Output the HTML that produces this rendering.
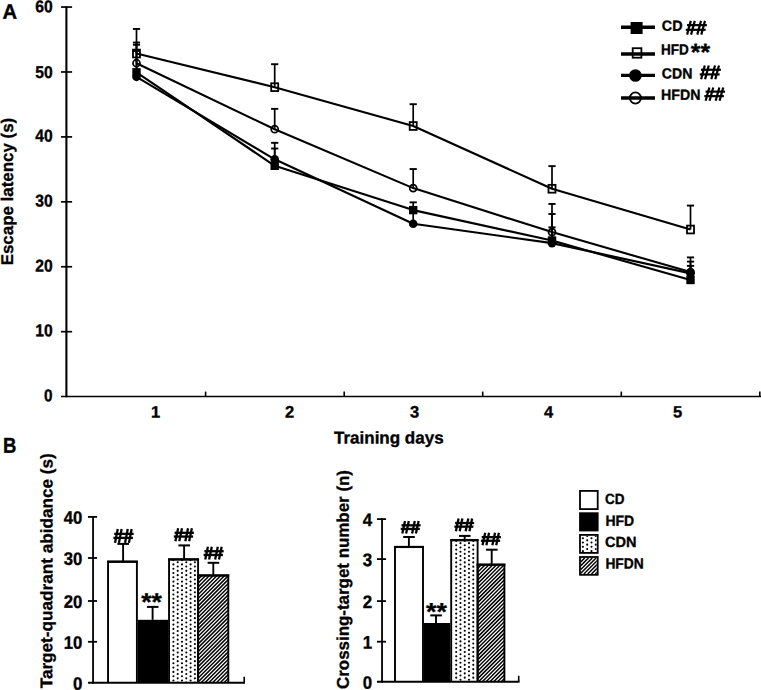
<!DOCTYPE html>
<html><head><meta charset="utf-8"><title>Figure</title>
<style>
html,body{margin:0;padding:0;background:#fff;}
svg{display:block;}
svg text{font-family:"Liberation Sans",sans-serif;font-weight:bold;fill:#000;}
</style></head><body>
<svg width="761" height="690" viewBox="0 0 761 690">
<rect x="0" y="0" width="761" height="690" fill="#fff" stroke="none"/>
<line x1="66.4" y1="6.2" x2="66.4" y2="397.3" stroke="#000" stroke-width="2.1" />
<line x1="61.0" y1="396.6" x2="761" y2="396.6" stroke="#000" stroke-width="1.5" />
<text x="52.6" y="401.3" transform="rotate(0.05 52.6 401.3)" font-size="17.1" text-anchor="end" textLength="8.5" lengthAdjust="spacingAndGlyphs" stroke="#000" stroke-width="0.35" >0</text>
<line x1="61.0" y1="331.68" x2="72.1" y2="331.68" stroke="#000" stroke-width="1.7" />
<text x="52.6" y="336.38" transform="rotate(0.05 52.6 336.38)" font-size="17.1" text-anchor="end" textLength="17.4" lengthAdjust="spacingAndGlyphs" stroke="#000" stroke-width="0.35" >10</text>
<line x1="61.0" y1="266.75" x2="72.1" y2="266.75" stroke="#000" stroke-width="1.7" />
<text x="52.6" y="271.45" transform="rotate(0.05 52.6 271.45)" font-size="17.1" text-anchor="end" textLength="17.4" lengthAdjust="spacingAndGlyphs" stroke="#000" stroke-width="0.35" >20</text>
<line x1="61.0" y1="201.83" x2="72.1" y2="201.83" stroke="#000" stroke-width="1.7" />
<text x="52.6" y="206.53" transform="rotate(0.05 52.6 206.53)" font-size="17.1" text-anchor="end" textLength="17.4" lengthAdjust="spacingAndGlyphs" stroke="#000" stroke-width="0.35" >30</text>
<line x1="61.0" y1="136.9" x2="72.1" y2="136.9" stroke="#000" stroke-width="1.7" />
<text x="52.6" y="141.6" transform="rotate(0.05 52.6 141.6)" font-size="17.1" text-anchor="end" textLength="17.4" lengthAdjust="spacingAndGlyphs" stroke="#000" stroke-width="0.35" >40</text>
<line x1="61.0" y1="71.98" x2="72.1" y2="71.98" stroke="#000" stroke-width="1.7" />
<text x="52.6" y="78.08" transform="rotate(0.05 52.6 78.08)" font-size="17.1" text-anchor="end" textLength="17.4" lengthAdjust="spacingAndGlyphs" stroke="#000" stroke-width="0.35" >50</text>
<line x1="61.0" y1="7.05" x2="72.1" y2="7.05" stroke="#000" stroke-width="1.7" />
<text x="52.6" y="12.25" transform="rotate(0.05 52.6 12.25)" font-size="17.1" text-anchor="end" textLength="17.4" lengthAdjust="spacingAndGlyphs" stroke="#000" stroke-width="0.35" >60</text>
<line x1="205.6" y1="396.6" x2="205.6" y2="391.6" stroke="#000" stroke-width="1.6" />
<line x1="344.2" y1="396.6" x2="344.2" y2="391.6" stroke="#000" stroke-width="1.6" />
<line x1="482.7" y1="396.6" x2="482.7" y2="391.6" stroke="#000" stroke-width="1.6" />
<line x1="621.3" y1="396.6" x2="621.3" y2="391.6" stroke="#000" stroke-width="1.6" />
<line x1="759.8" y1="396.6" x2="759.8" y2="391.6" stroke="#000" stroke-width="1.6" />
<text x="155.5" y="417.4" transform="rotate(0.05 155.5 417.4)" font-size="16.5" text-anchor="middle" stroke="#000" stroke-width="0.35" >1</text>
<text x="289.5" y="417.4" transform="rotate(0.05 289.5 417.4)" font-size="16.5" text-anchor="middle" stroke="#000" stroke-width="0.35" >2</text>
<text x="414.6" y="417.4" transform="rotate(0.05 414.6 417.4)" font-size="16.5" text-anchor="middle" stroke="#000" stroke-width="0.35" >3</text>
<text x="548.5" y="417.4" transform="rotate(0.05 548.5 417.4)" font-size="16.5" text-anchor="middle" stroke="#000" stroke-width="0.35" >4</text>
<text x="677.5" y="417.4" transform="rotate(0.05 677.5 417.4)" font-size="16.5" text-anchor="middle" stroke="#000" stroke-width="0.35" >5</text>
<text x="334.0" y="443.4" transform="rotate(0.05 334.0 443.4)" font-size="17" text-anchor="start" textLength="109.6" lengthAdjust="spacingAndGlyphs" stroke="#000" stroke-width="0.35" >Training days</text>
<text x="2.6" y="18.8" transform="rotate(0.05 2.6 18.8)" font-size="21" text-anchor="start" textLength="14.6" lengthAdjust="spacingAndGlyphs" stroke="#000" stroke-width="0.35" >A</text>
<text x="2.9" y="452.7" transform="rotate(0.05 2.9 452.7)" font-size="21.5" text-anchor="start" textLength="13.4" lengthAdjust="spacingAndGlyphs" stroke="#000" stroke-width="0.35" >B</text>
<text transform="translate(12.9,265.3) rotate(-89.95)" font-size="17" textLength="147.5" lengthAdjust="spacingAndGlyphs" stroke="#000" stroke-width="0.3">Escape latency (s)</text>
<polyline points="136.5,72.3 274.7,165.79 413.2,210.11 552.0,240.52 690.5,279.99" fill="none" stroke="#000" stroke-width="2.1" stroke-linejoin="round"/>
<polyline points="136.5,53.54 274.7,87.18 413.2,126.0 552.0,188.76 690.5,229.52" fill="none" stroke="#000" stroke-width="2.1" stroke-linejoin="round"/>
<polyline points="136.5,76.83 274.7,159.32 413.2,223.7 552.0,243.11 690.5,273.39" fill="none" stroke="#000" stroke-width="2.1" stroke-linejoin="round"/>
<polyline points="136.5,63.24 274.7,129.24 413.2,188.11 552.0,232.11 690.5,272.09" fill="none" stroke="#000" stroke-width="2.1" stroke-linejoin="round"/>
<line x1="136.5" y1="72.3" x2="136.5" y2="42.54" stroke="#000" stroke-width="1.7" />
<line x1="132.9" y1="42.54" x2="140.1" y2="42.54" stroke="#000" stroke-width="1.9" />
<line x1="274.7" y1="165.79" x2="274.7" y2="142.82" stroke="#000" stroke-width="1.7" />
<line x1="271.09999999999997" y1="142.82" x2="278.3" y2="142.82" stroke="#000" stroke-width="1.9" />
<line x1="413.2" y1="210.11" x2="413.2" y2="202.35" stroke="#000" stroke-width="1.7" />
<line x1="409.59999999999997" y1="202.35" x2="416.8" y2="202.35" stroke="#000" stroke-width="1.9" />
<line x1="552.0" y1="240.52" x2="552.0" y2="227.32" stroke="#000" stroke-width="1.7" />
<line x1="548.4" y1="227.32" x2="555.6" y2="227.32" stroke="#000" stroke-width="1.9" />
<line x1="690.5" y1="279.99" x2="690.5" y2="265.88" stroke="#000" stroke-width="1.7" />
<line x1="686.9" y1="265.88" x2="694.1" y2="265.88" stroke="#000" stroke-width="1.9" />
<line x1="136.5" y1="53.54" x2="136.5" y2="28.95" stroke="#000" stroke-width="1.7" />
<line x1="132.9" y1="28.95" x2="140.1" y2="28.95" stroke="#000" stroke-width="1.9" />
<line x1="274.7" y1="87.18" x2="274.7" y2="64.21" stroke="#000" stroke-width="1.7" />
<line x1="271.09999999999997" y1="64.21" x2="278.3" y2="64.21" stroke="#000" stroke-width="1.9" />
<line x1="413.2" y1="126.0" x2="413.2" y2="104.2" stroke="#000" stroke-width="1.7" />
<line x1="409.59999999999997" y1="104.2" x2="416.8" y2="104.2" stroke="#000" stroke-width="1.9" />
<line x1="552.0" y1="188.76" x2="552.0" y2="166.12" stroke="#000" stroke-width="1.7" />
<line x1="548.4" y1="166.12" x2="555.6" y2="166.12" stroke="#000" stroke-width="1.9" />
<line x1="690.5" y1="229.52" x2="690.5" y2="205.58" stroke="#000" stroke-width="1.7" />
<line x1="686.9" y1="205.58" x2="694.1" y2="205.58" stroke="#000" stroke-width="1.9" />
<line x1="136.5" y1="76.83" x2="136.5" y2="44.8" stroke="#000" stroke-width="1.7" />
<line x1="132.9" y1="44.8" x2="140.1" y2="44.8" stroke="#000" stroke-width="1.9" />
<line x1="274.7" y1="159.32" x2="274.7" y2="148.52" stroke="#000" stroke-width="1.7" />
<line x1="271.09999999999997" y1="148.52" x2="278.3" y2="148.52" stroke="#000" stroke-width="1.9" />
<line x1="413.2" y1="223.7" x2="413.2" y2="212.05" stroke="#000" stroke-width="1.7" />
<line x1="409.59999999999997" y1="212.05" x2="416.8" y2="212.05" stroke="#000" stroke-width="1.9" />
<line x1="552.0" y1="243.11" x2="552.0" y2="213.99" stroke="#000" stroke-width="1.7" />
<line x1="548.4" y1="213.99" x2="555.6" y2="213.99" stroke="#000" stroke-width="1.9" />
<line x1="690.5" y1="273.39" x2="690.5" y2="261.61" stroke="#000" stroke-width="1.7" />
<line x1="686.9" y1="261.61" x2="694.1" y2="261.61" stroke="#000" stroke-width="1.9" />
<line x1="136.5" y1="63.24" x2="136.5" y2="50.95" stroke="#000" stroke-width="1.7" />
<line x1="132.9" y1="50.95" x2="140.1" y2="50.95" stroke="#000" stroke-width="1.9" />
<line x1="274.7" y1="129.24" x2="274.7" y2="108.86" stroke="#000" stroke-width="1.7" />
<line x1="271.09999999999997" y1="108.86" x2="278.3" y2="108.86" stroke="#000" stroke-width="1.9" />
<line x1="413.2" y1="188.11" x2="413.2" y2="169.03" stroke="#000" stroke-width="1.7" />
<line x1="409.59999999999997" y1="169.03" x2="416.8" y2="169.03" stroke="#000" stroke-width="1.9" />
<line x1="552.0" y1="232.11" x2="552.0" y2="203.96" stroke="#000" stroke-width="1.7" />
<line x1="548.4" y1="203.96" x2="555.6" y2="203.96" stroke="#000" stroke-width="1.9" />
<line x1="690.5" y1="272.09" x2="690.5" y2="257.41" stroke="#000" stroke-width="1.7" />
<line x1="686.9" y1="257.41" x2="694.1" y2="257.41" stroke="#000" stroke-width="1.9" />
<rect x="133.0" y="49.64" width="7" height="7.8" fill="none" stroke="#000" stroke-width="1.8"/>
<rect x="271.2" y="83.28" width="7" height="7.8" fill="none" stroke="#000" stroke-width="1.8"/>
<rect x="409.7" y="122.1" width="7" height="7.8" fill="none" stroke="#000" stroke-width="1.8"/>
<rect x="548.5" y="184.86" width="7" height="7.8" fill="none" stroke="#000" stroke-width="1.8"/>
<rect x="687.0" y="225.62" width="7" height="7.8" fill="none" stroke="#000" stroke-width="1.8"/>
<circle cx="136.5" cy="63.24" r="3.5" fill="none" stroke="#000" stroke-width="1.75"/>
<circle cx="274.7" cy="129.24" r="3.5" fill="none" stroke="#000" stroke-width="1.75"/>
<circle cx="413.2" cy="188.11" r="3.5" fill="none" stroke="#000" stroke-width="1.75"/>
<circle cx="552.0" cy="232.11" r="3.5" fill="none" stroke="#000" stroke-width="1.75"/>
<circle cx="690.5" cy="272.09" r="3.5" fill="none" stroke="#000" stroke-width="1.75"/>
<rect x="132.3" y="68.1" width="8.4" height="8.4" fill="#000" stroke="none"/>
<rect x="270.5" y="161.59" width="8.4" height="8.4" fill="#000" stroke="none"/>
<rect x="409.0" y="205.91000000000003" width="8.4" height="8.4" fill="#000" stroke="none"/>
<rect x="547.8" y="236.32000000000002" width="8.4" height="8.4" fill="#000" stroke="none"/>
<rect x="686.3" y="275.79" width="8.4" height="8.4" fill="#000" stroke="none"/>
<circle cx="136.5" cy="76.83" r="4.3" fill="#000" stroke="none"/>
<circle cx="274.7" cy="159.32" r="4.3" fill="#000" stroke="none"/>
<circle cx="413.2" cy="223.7" r="4.3" fill="#000" stroke="none"/>
<circle cx="552.0" cy="243.11" r="4.3" fill="#000" stroke="none"/>
<circle cx="690.5" cy="273.39" r="4.3" fill="#000" stroke="none"/>
<line x1="621" y1="27.2" x2="655" y2="27.2" stroke="#000" stroke-width="3.4" />
<line x1="621" y1="54.0" x2="655" y2="54.0" stroke="#000" stroke-width="3.4" />
<line x1="621" y1="75.4" x2="655" y2="75.4" stroke="#000" stroke-width="3.4" />
<line x1="621" y1="98.0" x2="655" y2="98.0" stroke="#000" stroke-width="3.4" />
<rect x="630.6" y="22.0" width="12" height="12" fill="#000" stroke="none"/>
<rect x="632.7" y="48.2" width="8.7" height="9.5" fill="none" stroke="#000" stroke-width="1.8"/>
<circle cx="635.4" cy="75.5" r="6.3" fill="#000" stroke="none"/>
<circle cx="635.4" cy="98.0" r="5.6" fill="none" stroke="#000" stroke-width="1.8"/>
<text x="661.8" y="30.8" transform="rotate(0.05 661.8 30.8)" font-size="14.8" text-anchor="start" textLength="20.7" lengthAdjust="spacingAndGlyphs" stroke="#000" stroke-width="0.35" >CD</text>
<text x="661.0" y="54.6" transform="rotate(0.05 661.0 54.6)" font-size="14.8" text-anchor="start" textLength="27.8" lengthAdjust="spacingAndGlyphs" stroke="#000" stroke-width="0.35" >HFD</text>
<text x="661.8" y="78.4" transform="rotate(0.05 661.8 78.4)" font-size="14.8" text-anchor="start" textLength="30.6" lengthAdjust="spacingAndGlyphs" stroke="#000" stroke-width="0.35" >CDN</text>
<text x="661.0" y="99.8" transform="rotate(0.05 661.0 99.8)" font-size="14.8" text-anchor="start" textLength="39.4" lengthAdjust="spacingAndGlyphs" stroke="#000" stroke-width="0.35" >HFDN</text>
<line x1="690.8" y1="20.9" x2="687.1" y2="34.6" stroke="#000" stroke-width="2.2" />
<line x1="694.78" y1="20.9" x2="691.08" y2="34.6" stroke="#000" stroke-width="2.2" />
<line x1="701.0" y1="20.9" x2="697.3" y2="34.6" stroke="#000" stroke-width="2.2" />
<line x1="704.98" y1="20.9" x2="701.28" y2="34.6" stroke="#000" stroke-width="2.2" />
<line x1="687.0" y1="25.15" x2="706.9" y2="25.15" stroke="#000" stroke-width="2.2" />
<line x1="685.75" y1="29.8" x2="705.65" y2="29.8" stroke="#000" stroke-width="2.2" />
<line x1="704.8" y1="65.5" x2="701.1" y2="79.2" stroke="#000" stroke-width="2.2" />
<line x1="708.78" y1="65.5" x2="705.08" y2="79.2" stroke="#000" stroke-width="2.2" />
<line x1="715.0" y1="65.5" x2="711.3" y2="79.2" stroke="#000" stroke-width="2.2" />
<line x1="718.98" y1="65.5" x2="715.28" y2="79.2" stroke="#000" stroke-width="2.2" />
<line x1="701.0" y1="69.75" x2="720.9" y2="69.75" stroke="#000" stroke-width="2.2" />
<line x1="699.75" y1="74.41" x2="719.65" y2="74.41" stroke="#000" stroke-width="2.2" />
<line x1="709.35" y1="87.5" x2="705.65" y2="100.8" stroke="#000" stroke-width="2.2" />
<line x1="713.25" y1="87.5" x2="709.55" y2="100.8" stroke="#000" stroke-width="2.2" />
<line x1="719.35" y1="87.5" x2="715.65" y2="100.8" stroke="#000" stroke-width="2.2" />
<line x1="723.25" y1="87.5" x2="719.55" y2="100.8" stroke="#000" stroke-width="2.2" />
<line x1="705.6" y1="91.62" x2="725.1" y2="91.62" stroke="#000" stroke-width="2.2" />
<line x1="704.35" y1="96.14" x2="723.85" y2="96.14" stroke="#000" stroke-width="2.2" />
<text x="690.8" y="60.4" transform="rotate(0.05 690.8 60.4)" font-size="24.5" text-anchor="start" textLength="19.2" lengthAdjust="spacingAndGlyphs" stroke="#000" stroke-width="0.35" >**</text>
<path d="M108.05 682.75V561.8H136.9V682.75" fill="none" stroke="#000" stroke-width="1.9" stroke-linejoin="miter"/>
<line x1="107.1" y1="561.65" x2="137.85" y2="561.65" stroke="#000" stroke-width="2.1999999999999997"/>
<line x1="123.1" y1="561.8" x2="123.1" y2="543.9" stroke="#000" stroke-width="1.9" />
<line x1="117.39999999999999" y1="543.9" x2="129.0" y2="543.9" stroke="#000" stroke-width="2.0" />
<rect x="137.8" y="619.8" width="30.4" height="62.95" fill="#000" stroke="none"/>
<line x1="152.6" y1="619.8" x2="152.6" y2="606.9" stroke="#000" stroke-width="1.9" />
<line x1="146.9" y1="606.9" x2="158.5" y2="606.9" stroke="#000" stroke-width="2.0" />
<clipPath id="c1"><rect x="169.05" y="559.5" width="29.05" height="123.25"/></clipPath>
<g clip-path="url(#c1)" stroke-linecap="round">
<line x1="173.4" y1="555.8" x2="173.4" y2="684.75" stroke="#000" stroke-width="2.1" stroke-dasharray="0.01 4.29"/>
<line x1="177.7" y1="557.95" x2="177.7" y2="684.75" stroke="#000" stroke-width="2.1" stroke-dasharray="0.01 4.29"/>
<line x1="182.0" y1="555.8" x2="182.0" y2="684.75" stroke="#000" stroke-width="2.1" stroke-dasharray="0.01 4.29"/>
<line x1="186.3" y1="557.95" x2="186.3" y2="684.75" stroke="#000" stroke-width="2.1" stroke-dasharray="0.01 4.29"/>
<line x1="190.6" y1="555.8" x2="190.6" y2="684.75" stroke="#000" stroke-width="2.1" stroke-dasharray="0.01 4.29"/>
<line x1="194.9" y1="557.95" x2="194.9" y2="684.75" stroke="#000" stroke-width="2.1" stroke-dasharray="0.01 4.29"/>
</g>
<path d="M169.05 682.75V559.5H198.1V682.75" fill="none" stroke="#000" stroke-width="1.9" stroke-linejoin="miter"/>
<line x1="168.1" y1="559.35" x2="199.05" y2="559.35" stroke="#000" stroke-width="2.1999999999999997"/>
<line x1="184.1" y1="559.5" x2="184.1" y2="545.4" stroke="#000" stroke-width="1.9" />
<line x1="178.4" y1="545.4" x2="190.0" y2="545.4" stroke="#000" stroke-width="2.0" />
<clipPath id="c2"><rect x="198.1" y="575.6" width="30.2" height="107.15"/></clipPath>
<g clip-path="url(#c2)">
<path d="M90.95 682.75L198.1 575.6M94.75 682.75L201.9 575.6M98.55 682.75L205.7 575.6M102.35 682.75L209.5 575.6M106.15 682.75L213.3 575.6M109.95 682.75L217.1 575.6M113.75 682.75L220.9 575.6M117.55 682.75L224.7 575.6M121.35 682.75L228.5 575.6M125.15 682.75L232.3 575.6M128.95 682.75L236.1 575.6M132.75 682.75L239.9 575.6M136.55 682.75L243.7 575.6M140.35 682.75L247.5 575.6M144.15 682.75L251.3 575.6M147.95 682.75L255.1 575.6M151.75 682.75L258.9 575.6M155.55 682.75L262.7 575.6M159.35 682.75L266.5 575.6M163.15 682.75L270.3 575.6M166.95 682.75L274.1 575.6M170.75 682.75L277.9 575.6M174.55 682.75L281.7 575.6M178.35 682.75L285.5 575.6M182.15 682.75L289.3 575.6M185.95 682.75L293.1 575.6M189.75 682.75L296.9 575.6M193.55 682.75L300.7 575.6M197.35 682.75L304.5 575.6M201.15 682.75L308.3 575.6M204.95 682.75L312.1 575.6M208.75 682.75L315.9 575.6M212.55 682.75L319.7 575.6M216.35 682.75L323.5 575.6M220.15 682.75L327.3 575.6M223.95 682.75L331.1 575.6M227.75 682.75L334.9 575.6" stroke="#000" stroke-width="1.45" fill="none"/>
</g>
<path d="M198.1 682.75V575.6H228.3V682.75" fill="none" stroke="#000" stroke-width="1.9" stroke-linejoin="miter"/>
<line x1="197.15" y1="575.45" x2="229.25" y2="575.45" stroke="#000" stroke-width="2.1999999999999997"/>
<line x1="213.3" y1="575.6" x2="213.3" y2="562.8" stroke="#000" stroke-width="1.9" />
<line x1="207.60000000000002" y1="562.8" x2="219.20000000000002" y2="562.8" stroke="#000" stroke-width="2.0" />
<path d="M395.0 681.75V547.1H423.0V681.75" fill="none" stroke="#000" stroke-width="1.9" stroke-linejoin="miter"/>
<line x1="394.05" y1="546.95" x2="423.95" y2="546.95" stroke="#000" stroke-width="2.1999999999999997"/>
<line x1="408.9" y1="547.1" x2="408.9" y2="537.0" stroke="#000" stroke-width="1.9" />
<line x1="403.2" y1="537.0" x2="414.79999999999995" y2="537.0" stroke="#000" stroke-width="2.0" />
<rect x="423.9" y="623.0" width="26.4" height="58.75" fill="#000" stroke="none"/>
<line x1="436.0" y1="623.0" x2="436.0" y2="615.4" stroke="#000" stroke-width="1.9" />
<line x1="430.3" y1="615.4" x2="441.9" y2="615.4" stroke="#000" stroke-width="2.0" />
<clipPath id="c3"><rect x="451.2" y="540.2" width="26.4" height="141.55"/></clipPath>
<g clip-path="url(#c3)" stroke-linecap="round">
<line x1="456.2" y1="536.76" x2="456.2" y2="683.75" stroke="#000" stroke-width="2.1" stroke-dasharray="0.01 4.26"/>
<line x1="460.47" y1="538.89" x2="460.47" y2="683.75" stroke="#000" stroke-width="2.1" stroke-dasharray="0.01 4.26"/>
<line x1="464.74" y1="536.76" x2="464.74" y2="683.75" stroke="#000" stroke-width="2.1" stroke-dasharray="0.01 4.26"/>
<line x1="469.01" y1="538.89" x2="469.01" y2="683.75" stroke="#000" stroke-width="2.1" stroke-dasharray="0.01 4.26"/>
<line x1="473.28" y1="536.76" x2="473.28" y2="683.75" stroke="#000" stroke-width="2.1" stroke-dasharray="0.01 4.26"/>
</g>
<path d="M451.2 681.75V540.2H477.6V681.75" fill="none" stroke="#000" stroke-width="1.9" stroke-linejoin="miter"/>
<line x1="450.25" y1="540.0500000000001" x2="478.55" y2="540.0500000000001" stroke="#000" stroke-width="2.1999999999999997"/>
<line x1="464.65" y1="540.2" x2="464.65" y2="535.9" stroke="#000" stroke-width="1.9" />
<line x1="458.95" y1="535.9" x2="470.54999999999995" y2="535.9" stroke="#000" stroke-width="2.0" />
<clipPath id="c4"><rect x="477.6" y="564.8" width="26.8" height="116.95"/></clipPath>
<g clip-path="url(#c4)">
<path d="M360.65 681.75L477.6 564.8M364.45 681.75L481.4 564.8M368.25 681.75L485.2 564.8M372.05 681.75L489.0 564.8M375.85 681.75L492.8 564.8M379.65 681.75L496.6 564.8M383.45 681.75L500.4 564.8M387.25 681.75L504.2 564.8M391.05 681.75L508.0 564.8M394.85 681.75L511.8 564.8M398.65 681.75L515.6 564.8M402.45 681.75L519.4 564.8M406.25 681.75L523.2 564.8M410.05 681.75L527.0 564.8M413.85 681.75L530.8 564.8M417.65 681.75L534.6 564.8M421.45 681.75L538.4 564.8M425.25 681.75L542.2 564.8M429.05 681.75L546.0 564.8M432.85 681.75L549.8 564.8M436.65 681.75L553.6 564.8M440.45 681.75L557.4 564.8M444.25 681.75L561.2 564.8M448.05 681.75L565.0 564.8M451.85 681.75L568.8 564.8M455.65 681.75L572.6 564.8M459.45 681.75L576.4 564.8M463.25 681.75L580.2 564.8M467.05 681.75L584.0 564.8M470.85 681.75L587.8 564.8M474.65 681.75L591.6 564.8M478.45 681.75L595.4 564.8M482.25 681.75L599.2 564.8M486.05 681.75L603.0 564.8M489.85 681.75L606.8 564.8M493.65 681.75L610.6 564.8M497.45 681.75L614.4 564.8M501.25 681.75L618.2 564.8" stroke="#000" stroke-width="1.45" fill="none"/>
</g>
<path d="M477.6 681.75V564.8H504.4V681.75" fill="none" stroke="#000" stroke-width="1.9" stroke-linejoin="miter"/>
<line x1="476.65" y1="564.65" x2="505.35" y2="564.65" stroke="#000" stroke-width="2.1999999999999997"/>
<line x1="491.7" y1="564.8" x2="491.7" y2="549.7" stroke="#000" stroke-width="1.9" />
<line x1="486.0" y1="549.7" x2="497.59999999999997" y2="549.7" stroke="#000" stroke-width="2.0" />
<line x1="93.05" y1="683.65" x2="93.05" y2="516.0" stroke="#000" stroke-width="1.8" />
<line x1="87.95" y1="682.75" x2="245.0" y2="682.75" stroke="#000" stroke-width="1.8" />
<line x1="244.2" y1="682.75" x2="244.2" y2="676.75" stroke="#000" stroke-width="1.6" />
<text x="82.3" y="689.65" transform="rotate(0.05 82.3 689.65)" font-size="18" text-anchor="end" textLength="9.4" lengthAdjust="spacingAndGlyphs" stroke="#000" stroke-width="0.35" >0</text>
<line x1="87.95" y1="641.8" x2="97.05" y2="641.8" stroke="#000" stroke-width="1.8" />
<text x="82.3" y="648.7" transform="rotate(0.05 82.3 648.7)" font-size="18" text-anchor="end" textLength="18.6" lengthAdjust="spacingAndGlyphs" stroke="#000" stroke-width="0.35" >10</text>
<line x1="87.95" y1="601.0" x2="97.05" y2="601.0" stroke="#000" stroke-width="1.8" />
<text x="82.3" y="607.9" transform="rotate(0.05 82.3 607.9)" font-size="18" text-anchor="end" textLength="18.6" lengthAdjust="spacingAndGlyphs" stroke="#000" stroke-width="0.35" >20</text>
<line x1="87.95" y1="558.0" x2="97.05" y2="558.0" stroke="#000" stroke-width="1.8" />
<text x="82.3" y="564.9" transform="rotate(0.05 82.3 564.9)" font-size="18" text-anchor="end" textLength="18.6" lengthAdjust="spacingAndGlyphs" stroke="#000" stroke-width="0.35" >30</text>
<line x1="87.95" y1="516.9" x2="97.05" y2="516.9" stroke="#000" stroke-width="1.8" />
<text x="82.3" y="523.8" transform="rotate(0.05 82.3 523.8)" font-size="18" text-anchor="end" textLength="18.6" lengthAdjust="spacingAndGlyphs" stroke="#000" stroke-width="0.35" >40</text>
<line x1="382.05" y1="682.65" x2="382.05" y2="518.2" stroke="#000" stroke-width="1.8" />
<line x1="376.95" y1="681.75" x2="519.5" y2="681.75" stroke="#000" stroke-width="1.8" />
<line x1="518.7" y1="681.75" x2="518.7" y2="675.75" stroke="#000" stroke-width="1.6" />
<text x="372.1" y="688.65" transform="rotate(0.05 372.1 688.65)" font-size="18" text-anchor="end" textLength="9.4" lengthAdjust="spacingAndGlyphs" stroke="#000" stroke-width="0.35" >0</text>
<line x1="376.95" y1="641.7" x2="386.05" y2="641.7" stroke="#000" stroke-width="1.8" />
<text x="372.1" y="648.6" transform="rotate(0.05 372.1 648.6)" font-size="18" text-anchor="end" textLength="9.4" lengthAdjust="spacingAndGlyphs" stroke="#000" stroke-width="0.35" >1</text>
<line x1="376.95" y1="601.1" x2="386.05" y2="601.1" stroke="#000" stroke-width="1.8" />
<text x="372.1" y="608.0" transform="rotate(0.05 372.1 608.0)" font-size="18" text-anchor="end" textLength="9.4" lengthAdjust="spacingAndGlyphs" stroke="#000" stroke-width="0.35" >2</text>
<line x1="376.95" y1="559.1" x2="386.05" y2="559.1" stroke="#000" stroke-width="1.8" />
<text x="372.1" y="566.0" transform="rotate(0.05 372.1 566.0)" font-size="18" text-anchor="end" textLength="9.4" lengthAdjust="spacingAndGlyphs" stroke="#000" stroke-width="0.35" >3</text>
<line x1="376.95" y1="519.1" x2="386.05" y2="519.1" stroke="#000" stroke-width="1.8" />
<text x="372.1" y="526.0" transform="rotate(0.05 372.1 526.0)" font-size="18" text-anchor="end" textLength="9.4" lengthAdjust="spacingAndGlyphs" stroke="#000" stroke-width="0.35" >4</text>
<text transform="translate(52.3,688.3) rotate(-89.95)" font-size="17" textLength="235" lengthAdjust="spacingAndGlyphs" stroke="#000" stroke-width="0.3">Target-quadrant abidance (s)</text>
<text transform="translate(348.7,689) rotate(-89.95)" font-size="17" textLength="219" lengthAdjust="spacingAndGlyphs" stroke="#000" stroke-width="0.3">Crossing-target number (n)</text>
<line x1="117.75" y1="529.0" x2="115.05" y2="542.9" stroke="#000" stroke-width="2.3" />
<line x1="121.65" y1="529.0" x2="118.95" y2="542.9" stroke="#000" stroke-width="2.3" />
<line x1="127.75" y1="529.0" x2="125.05" y2="542.9" stroke="#000" stroke-width="2.3" />
<line x1="131.65" y1="529.0" x2="128.95" y2="542.9" stroke="#000" stroke-width="2.3" />
<line x1="114.2" y1="533.87" x2="133.7" y2="533.87" stroke="#000" stroke-width="2.3" />
<line x1="113.42" y1="537.9" x2="132.92" y2="537.9" stroke="#000" stroke-width="2.3" />
<line x1="178.12" y1="528.3" x2="175.42" y2="541.2" stroke="#000" stroke-width="2.3" />
<line x1="181.98" y1="528.3" x2="179.28" y2="541.2" stroke="#000" stroke-width="2.3" />
<line x1="188.02" y1="528.3" x2="185.32" y2="541.2" stroke="#000" stroke-width="2.3" />
<line x1="191.88" y1="528.3" x2="189.18" y2="541.2" stroke="#000" stroke-width="2.3" />
<line x1="174.6" y1="532.81" x2="193.91" y2="532.81" stroke="#000" stroke-width="2.3" />
<line x1="173.82" y1="536.56" x2="193.12" y2="536.56" stroke="#000" stroke-width="2.3" />
<line x1="207.92" y1="546.7" x2="205.22" y2="559.6" stroke="#000" stroke-width="2.3" />
<line x1="211.78" y1="546.7" x2="209.08" y2="559.6" stroke="#000" stroke-width="2.3" />
<line x1="217.82" y1="546.7" x2="215.12" y2="559.6" stroke="#000" stroke-width="2.3" />
<line x1="221.68" y1="546.7" x2="218.98" y2="559.6" stroke="#000" stroke-width="2.3" />
<line x1="204.41" y1="551.22" x2="223.71" y2="551.22" stroke="#000" stroke-width="2.3" />
<line x1="203.62" y1="554.96" x2="222.92" y2="554.96" stroke="#000" stroke-width="2.3" />
<line x1="405.0" y1="520.9" x2="402.3" y2="533.5" stroke="#000" stroke-width="2.3" />
<line x1="408.82" y1="520.9" x2="406.12" y2="533.5" stroke="#000" stroke-width="2.3" />
<line x1="414.8" y1="520.9" x2="412.1" y2="533.5" stroke="#000" stroke-width="2.3" />
<line x1="418.62" y1="520.9" x2="415.92" y2="533.5" stroke="#000" stroke-width="2.3" />
<line x1="401.5" y1="525.31" x2="420.61" y2="525.31" stroke="#000" stroke-width="2.3" />
<line x1="400.72" y1="528.96" x2="419.82" y2="528.96" stroke="#000" stroke-width="2.3" />
<line x1="458.58" y1="518.6" x2="455.88" y2="531.2" stroke="#000" stroke-width="2.3" />
<line x1="462.39" y1="518.6" x2="459.69" y2="531.2" stroke="#000" stroke-width="2.3" />
<line x1="468.33" y1="518.6" x2="465.63" y2="531.2" stroke="#000" stroke-width="2.3" />
<line x1="472.14" y1="518.6" x2="469.44" y2="531.2" stroke="#000" stroke-width="2.3" />
<line x1="455.11" y1="523.01" x2="474.11" y2="523.01" stroke="#000" stroke-width="2.3" />
<line x1="454.32" y1="526.66" x2="473.32" y2="526.66" stroke="#000" stroke-width="2.3" />
<line x1="485.21" y1="532.7" x2="482.51" y2="545.3" stroke="#000" stroke-width="2.3" />
<line x1="489.05" y1="532.7" x2="486.35" y2="545.3" stroke="#000" stroke-width="2.3" />
<line x1="495.06" y1="532.7" x2="492.36" y2="545.3" stroke="#000" stroke-width="2.3" />
<line x1="498.9" y1="532.7" x2="496.2" y2="545.3" stroke="#000" stroke-width="2.3" />
<line x1="481.7" y1="537.11" x2="500.9" y2="537.11" stroke="#000" stroke-width="2.3" />
<line x1="480.92" y1="540.76" x2="500.12" y2="540.76" stroke="#000" stroke-width="2.3" />
<text x="141.2" y="610.5" transform="rotate(0.05 141.2 610.5)" font-size="25" text-anchor="start" textLength="20.6" lengthAdjust="spacingAndGlyphs" stroke="#000" stroke-width="0.35" >**</text>
<text x="426.0" y="620.2" transform="rotate(0.05 426.0 620.2)" font-size="25" text-anchor="start" textLength="20.8" lengthAdjust="spacingAndGlyphs" stroke="#000" stroke-width="0.35" >**</text>
<rect x="580" y="490.9" width="17.7" height="18.2" fill="none" stroke="#000" stroke-width="1.8"/>
<rect x="579.1" y="512.3" width="19.5" height="19.1" fill="#000" stroke="none"/>
<clipPath id="c5"><rect x="580.9" y="535.8" width="15.9" height="16.2"/></clipPath>
<g clip-path="url(#c5)" stroke-linecap="round">
<line x1="582.9" y1="533.9" x2="582.9" y2="554.0" stroke="#000" stroke-width="2.1" stroke-dasharray="0.01 4.29"/>
<line x1="587.2" y1="531.75" x2="587.2" y2="554.0" stroke="#000" stroke-width="2.1" stroke-dasharray="0.01 4.29"/>
<line x1="591.5" y1="533.9" x2="591.5" y2="554.0" stroke="#000" stroke-width="2.1" stroke-dasharray="0.01 4.29"/>
<line x1="595.8" y1="531.75" x2="595.8" y2="554.0" stroke="#000" stroke-width="2.1" stroke-dasharray="0.01 4.29"/>
</g>
<rect x="580" y="534.9" width="17.7" height="18.0" fill="none" stroke="#000" stroke-width="1.8"/>
<clipPath id="c6"><rect x="580.9" y="557.9" width="15.9" height="16.0"/></clipPath>
<g clip-path="url(#c6)">
<path d="M564.9 573.9L580.9 557.9M568.7 573.9L584.7 557.9M572.5 573.9L588.5 557.9M576.3 573.9L592.3 557.9M580.1 573.9L596.1 557.9M583.9 573.9L599.9 557.9M587.7 573.9L603.7 557.9M591.5 573.9L607.5 557.9M595.3 573.9L611.3 557.9" stroke="#000" stroke-width="1.45" fill="none"/>
</g>
<rect x="580" y="557.0" width="17.7" height="17.8" fill="none" stroke="#000" stroke-width="1.8"/>
<text x="605.0" y="504.0" transform="rotate(0.05 605.0 504.0)" font-size="14.8" text-anchor="start" textLength="19.5" lengthAdjust="spacingAndGlyphs" stroke="#000" stroke-width="0.35" >CD</text>
<text x="605.4" y="525.8" transform="rotate(0.05 605.4 525.8)" font-size="14.8" text-anchor="start" textLength="28.8" lengthAdjust="spacingAndGlyphs" stroke="#000" stroke-width="0.35" >HFD</text>
<text x="605.0" y="547.0" transform="rotate(0.05 605.0 547.0)" font-size="14.8" text-anchor="start" textLength="31.5" lengthAdjust="spacingAndGlyphs" stroke="#000" stroke-width="0.35" >CDN</text>
<text x="605.4" y="568.4" transform="rotate(0.05 605.4 568.4)" font-size="14.8" text-anchor="start" textLength="38.3" lengthAdjust="spacingAndGlyphs" stroke="#000" stroke-width="0.35" >HFDN</text>
</svg>
</body></html>
